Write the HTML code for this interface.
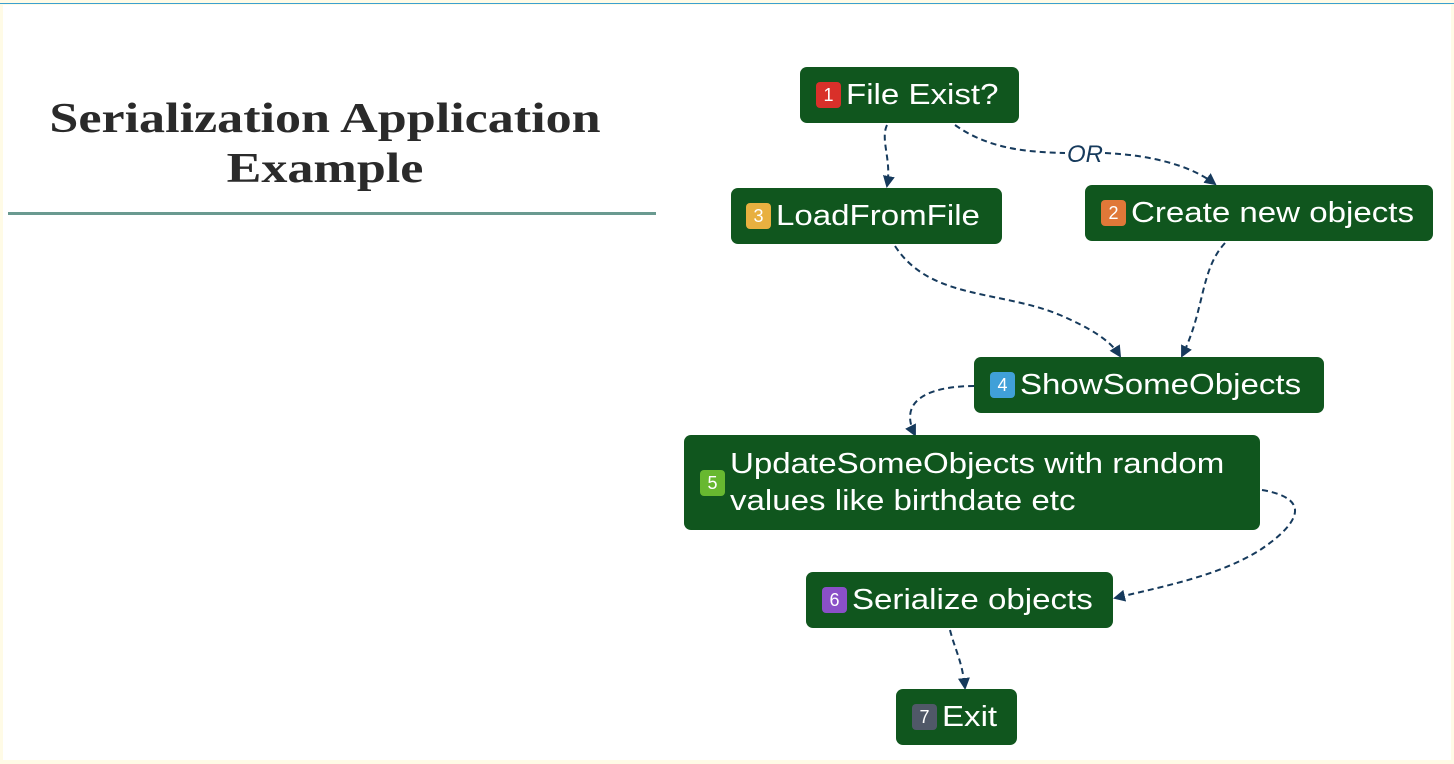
<!DOCTYPE html>
<html><head><style>
body{margin:0;width:1454px;height:764px;overflow:hidden;background:#fffbe6;font-family:"Liberation Sans",sans-serif}
#pg{position:absolute;left:3px;top:5px;width:1448px;height:755px;background:#fff}
#topline{position:absolute;left:0;top:3px;width:1454px;height:1px;background:#3aa0d0}
h1{position:absolute;left:10px;top:94px;width:630px;margin:0;text-align:center;font-family:"Liberation Serif",serif;font-weight:bold;font-size:42px;line-height:50px;color:#2a2a2a;transform:scaleX(1.24);transform-origin:315px 0}
#rule{position:absolute;left:8px;top:212px;width:648px;height:3px;background:#6a9a90}
.n{position:absolute;background:#10561e;border-radius:7px;color:#fff;font-size:29px;display:flex;align-items:center;box-sizing:border-box;padding-left:16px;white-space:nowrap}
.t{display:inline-block;transform:scaleX(1.14);transform-origin:0 50%}
.b{display:inline-block;width:25px;height:26px;border-radius:4px;color:#fff;font-size:18px;text-align:center;line-height:26px;margin-right:5px;flex:none}
svg{position:absolute;left:0;top:0}
</style></head><body>
<div id="pg"></div><div id="topline"></div>
<h1>Serialization Application<br>Example</h1>
<div id="rule"></div>
<svg width="1454" height="764">
<defs><marker id="a" markerWidth="6" markerHeight="6" refX="5" refY="3" orient="auto"><path d="M0,0 L6,3 L0,6 z" fill="#163a5c"/></marker></defs>
<g fill="none" stroke="#163a5c" stroke-width="2" stroke-dasharray="6,4" marker-end="url(#a)">
<path d="M887,125 C880,140 892,160 887,186"/>
<path d="M955,125 C990,150 1030,152 1065,153 M1105,153 C1150,155 1190,165 1215,184"/>
<path d="M895,246 C930,300 1000,290 1060,315 C1090,328 1110,340 1120,356"/>
<path d="M1225,243 C1200,270 1205,310 1182,356"/>
<path d="M974,386 C940,386 895,395 915,435"/>
<path d="M1262,490 C1320,500 1290,530 1260,550 C1220,575 1170,585 1115,598"/>
<path d="M950,630 C955,650 962,660 965,688"/>
</g>
<text x="1085" y="162" font-family="Liberation Sans" font-style="italic" font-size="24" fill="#163a5c" text-anchor="middle">OR</text>
</svg>
<div class="n" style="left:800px;top:67px;width:219px;height:56px"><span class="b" style="background:#d9302a">1</span><span class="t">File Exist?</span></div>
<div class="n" style="left:731px;top:188px;width:271px;height:56px;padding-left:15px"><span class="b" style="background:#e8b040">3</span><span class="t">LoadFromFile</span></div>
<div class="n" style="left:1085px;top:185px;width:348px;height:56px"><span class="b" style="background:#e07838">2</span><span class="t">Create new objects</span></div>
<div class="n" style="left:974px;top:357px;width:350px;height:56px"><span class="b" style="background:#40a0d8">4</span><span class="t">ShowSomeObjects</span></div>
<div class="n" style="left:684px;top:435px;width:576px;height:95px;line-height:37px"><span class="b" style="background:#68b830">5</span><span class="t">UpdateSomeObjects with random<br>values like birthdate etc</span></div>
<div class="n" style="left:806px;top:572px;width:307px;height:56px"><span class="b" style="background:#8a50c8">6</span><span class="t">Serialize objects</span></div>
<div class="n" style="left:896px;top:689px;width:121px;height:56px"><span class="b" style="background:#505868">7</span><span class="t">Exit</span></div>
</body></html>
